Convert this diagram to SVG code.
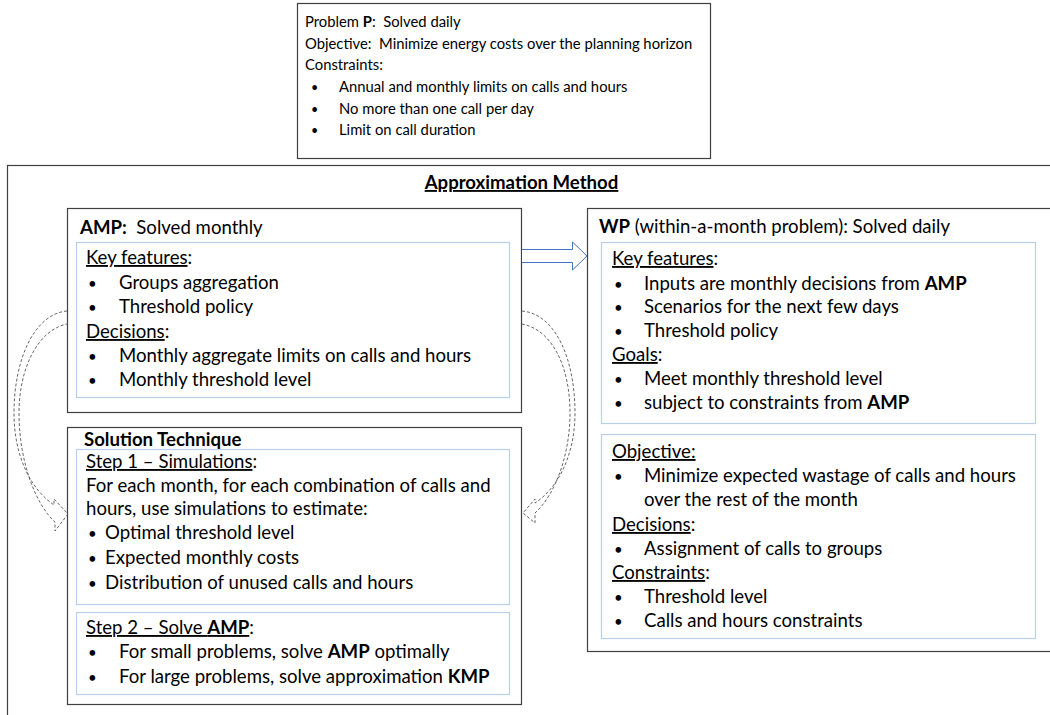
<svg xmlns="http://www.w3.org/2000/svg" width="1050" height="715" viewBox="0 0 1050 715">
<style>
.t{font-family:Lato,"Liberation Sans",sans-serif;font-size:18.6px;fill:#000}
.s{font-size:14.8px}
.bl{font-size:15px}
.bs{font-size:12.5px}
.b{font-weight:bold}
.u{text-decoration:underline}
.box{fill:#fff;stroke:#404040;stroke-width:1.2}
.inner{fill:none;stroke:#b8d0ea;stroke-width:1.2}
.dash{fill:none;stroke:#555;stroke-width:0.9;stroke-dasharray:3 2}
</style>
<rect width="1050" height="715" fill="#fff"/>
<g id="outer-frame">
<rect class="box" x="7.5" y="165.5" width="1100" height="700"/>
<text class="t b" x="521.5" y="189" text-anchor="middle"><tspan class="u">Approximation Method</tspan></text>
</g>
<g id="problem-p">
<rect class="box" x="297.5" y="3.5" width="413" height="155"/>
<text class="t s" x="305" y="27">Problem <tspan class="b">P</tspan>:&#160; Solved daily</text>
<text class="t s" x="305" y="48.5">Objective:&#160; Minimize energy costs over the planning horizon</text>
<text class="t s" x="305" y="70">Constraints:</text>
<text class="t bs" x="311" y="92">•</text><text class="t s" x="339" y="92">Annual and monthly limits on calls and hours</text>
<text class="t bs" x="311" y="113.5">•</text><text class="t s" x="339" y="113.5">No more than one call per day</text>
<text class="t bs" x="311" y="135">•</text><text class="t s" x="339" y="135">Limit on call duration</text>
</g>
<g id="amp">
<rect class="box" x="67.5" y="208.5" width="454" height="204"/>
<text class="t" x="80" y="234"><tspan class="b">AMP:</tspan>&#160; Solved monthly</text>
<rect class="inner" x="76.5" y="242.5" width="433" height="155"/>
<text class="t" x="86" y="264"><tspan class="u">Key features</tspan>:</text>
<text class="t bl" x="88" y="289">•</text><text class="t" x="119" y="289">Groups aggregation</text>
<text class="t bl" x="88" y="313">•</text><text class="t" x="119" y="313">Threshold policy</text>
<text class="t" x="86" y="338"><tspan class="u">Decisions</tspan>:</text>
<text class="t bl" x="88" y="362">•</text><text class="t" x="119" y="362">Monthly aggregate limits on calls and hours</text>
<text class="t bl" x="88" y="386">•</text><text class="t" x="119" y="386">Monthly threshold level</text>
</g>
<g id="solution-technique">
<rect class="box" x="67.5" y="427.5" width="454" height="277"/>
<text class="t b" x="84" y="446">Solution Technique</text>
<rect class="inner" x="76.5" y="449.5" width="433" height="155"/>
<text class="t" x="86" y="468"><tspan class="u">Step 1 – Simulations</tspan>:</text>
<text class="t" x="86" y="492">For each month, for each combination of calls and</text>
<text class="t" x="86" y="515">hours, use simulations to estimate:</text>
<text class="t bl" x="88" y="539">•</text><text class="t" x="105" y="539">Optimal threshold level</text>
<text class="t bl" x="88" y="564">•</text><text class="t" x="105" y="564">Expected monthly costs</text>
<text class="t bl" x="88" y="589">•</text><text class="t" x="105" y="589">Distribution of unused calls and hours</text>
<rect class="inner" x="76.5" y="612.5" width="433" height="82"/>
<text class="t" x="86" y="634"><tspan class="u">Step 2 – Solve <tspan class="b">AMP</tspan></tspan>:</text>
<text class="t bl" x="88" y="658">•</text><text class="t" x="119" y="658">For small problems, solve <tspan class="b">AMP</tspan> optimally</text>
<text class="t bl" x="88" y="683">•</text><text class="t" x="119" y="683">For large problems, solve approximation <tspan class="b">KMP</tspan></text>
</g>
<g id="wp">
<rect class="box" x="587.5" y="208.5" width="500" height="443"/>
<text class="t" x="599" y="233"><tspan class="b">WP</tspan> (within-a-month problem): Solved daily</text>
<rect class="inner" x="601.5" y="242.5" width="434" height="181"/>
<text class="t" x="612" y="265"><tspan class="u">Key features</tspan>:</text>
<text class="t bl" x="614" y="290">•</text><text class="t" x="644" y="290">Inputs are monthly decisions from <tspan class="b">AMP</tspan></text>
<text class="t bl" x="614" y="313">•</text><text class="t" x="644" y="313">Scenarios for the next few days</text>
<text class="t bl" x="614" y="337">•</text><text class="t" x="644" y="337">Threshold policy</text>
<text class="t" x="612" y="361"><tspan class="u">Goals</tspan>:</text>
<text class="t bl" x="614" y="385">•</text><text class="t" x="644" y="385">Meet monthly threshold level</text>
<text class="t bl" x="614" y="409">•</text><text class="t" x="644" y="409">subject to constraints from <tspan class="b">AMP</tspan></text>
<rect class="inner" x="601.5" y="434.5" width="434" height="204"/>
<text class="t" x="612" y="458"><tspan class="u">Objective:</tspan></text>
<text class="t bl" x="614" y="482">•</text><text class="t" x="644" y="482">Minimize expected wastage of calls and hours</text>
<text class="t" x="644" y="506">over the rest of the month</text>
<text class="t" x="612" y="531"><tspan class="u">Decisions</tspan>:</text>
<text class="t bl" x="614" y="555">•</text><text class="t" x="644" y="555">Assignment of calls to groups</text>
<text class="t" x="612" y="579"><tspan class="u">Constraints</tspan>:</text>
<text class="t bl" x="614" y="603">•</text><text class="t" x="644" y="603">Threshold level</text>
<text class="t bl" x="614" y="627">•</text><text class="t" x="644" y="627">Calls and hours constraints</text>
</g>
<g id="connectors">
<path d="M522,249.5 H572.5 V242 L587,256 L572.5,270 V262.5 H522" fill="#fff" stroke="#4472c4" stroke-width="1"/>
<path class="dash" d="M67,311 C34,314 14,360 14,413 C14,458 32,490 54,505 L54,499 L68,514 L55,531 L55,522 C36,505 19,462 19,413 C19,368 38,330 67,324"/>
<path class="dash" d="M522,311 C556,314 575,360 575,413 C575,455 558,488 535,503 L535,499 L523,513 L535,523 L535,513 C555,495 570,455 570,413 C570,368 553,330 522,324"/>
</g>
</svg>
